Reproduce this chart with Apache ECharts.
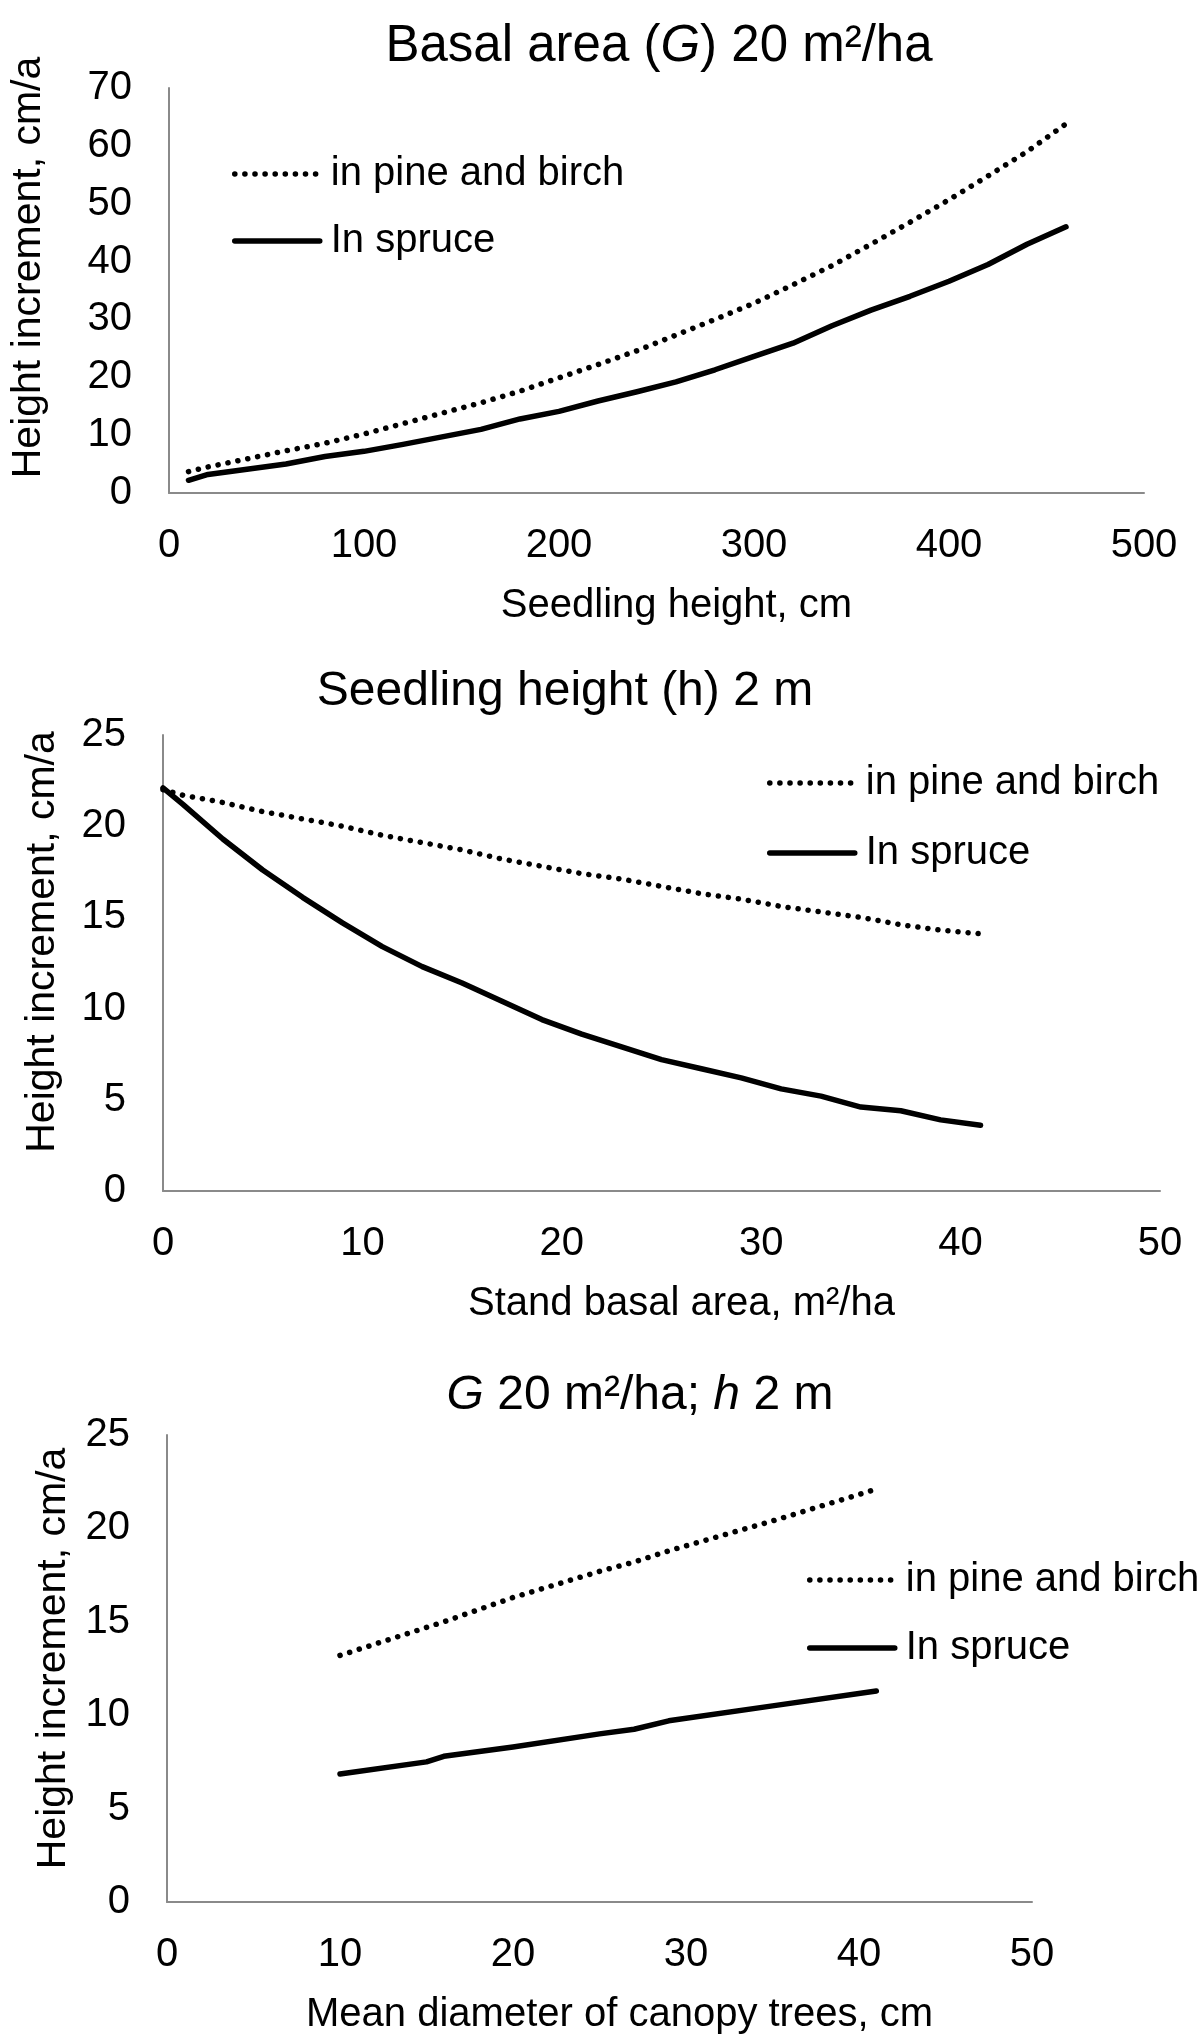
<!DOCTYPE html>
<html>
<head>
<meta charset="utf-8">
<script src="https://cdn.jsdelivr.net/npm/echarts@6/dist/echarts.min.js"></script>
<style>
html,body{margin:0;padding:0;background:#fff;}
#c{width:1200px;height:2037px;}
</style>
</head>
<body>
<div id="c"></div>
<script>
const FONT = '"Liberation Sans", Arial, Helvetica, sans-serif';
const seriesNames = ['in pine and birch', 'In spruce'];

// Panel 1: Basal area (G) 20 m2/ha
const p1X = [10, 20, 40, 60, 80, 100, 120, 140, 160, 180, 200, 220, 240, 260, 280, 300, 320, 340, 360, 380, 400, 420, 440, 460];
const p1Pine = [3.7, 4.5, 5.9, 7.3, 8.6, 10.2, 12.0, 13.8, 15.6, 17.6, 19.9, 22.2, 24.6, 27.3, 30.0, 32.8, 36.0, 39.3, 43.0, 46.8, 50.7, 54.8, 59.0, 63.8];
const p1Spruce = [2.2, 3.2, 4.1, 5.0, 6.3, 7.2, 8.4, 9.7, 11.0, 12.8, 14.1, 15.9, 17.5, 19.2, 21.3, 23.6, 25.9, 28.9, 31.6, 34.0, 36.6, 39.5, 43.0, 46.0];
const p1XTicks = [0, 100, 200, 300, 400, 500];
const p1YTicks = [0, 10, 20, 30, 40, 50, 60, 70];

// Panel 2: Seedling height (h) 2 m
const p2X = [0, 1, 3, 5, 7, 9, 11, 13, 15, 17, 19, 21, 23, 25, 27, 29, 31, 33, 35, 37, 39, 41];
const p2Pine = [22.0, 21.7, 21.3, 20.8, 20.4, 20.0, 19.5, 19.1, 18.7, 18.2, 17.8, 17.4, 17.1, 16.7, 16.3, 16.0, 15.6, 15.3, 15.0, 14.6, 14.3, 14.1];
const p2Spruce = [22.1, 21.2, 19.3, 17.6, 16.1, 14.7, 13.4, 12.3, 11.4, 10.4, 9.4, 8.6, 7.9, 7.2, 6.7, 6.2, 5.6, 5.2, 4.6, 4.4, 3.9, 3.6];
const p2XTicks = [0, 10, 20, 30, 40, 50];
const p2YTicks = [0, 5, 10, 15, 20, 25];

// Panel 3: G 20 m2/ha; h 2 m
const p3X = [10, 15, 16, 20, 25, 27, 29, 35, 41];
const p3Pine = [13.2, 14.7, 15.0, 16.3, 17.7, 18.2, 18.8, 20.4, 22.1];
const p3Spruce = [6.85, 7.5, 7.8, 8.3, 9.0, 9.25, 9.7, 10.5, 11.3];
const p3XTicks = [0, 10, 20, 30, 40, 50];
const p3YTicks = [0, 5, 10, 15, 20, 25];

const xNames = ['Seedling height, cm', 'Stand basal area, m²/ha', 'Mean diameter of canopy trees, cm'];
const yName = 'Height increment, cm/a';

const pineStyle = {color: '#000', width: 5.5, type: [0.1, 10], cap: 'round'};
const spruceStyle = {color: '#000', width: 5.5, type: 'solid', cap: 'round', join: 'round'};

const grids = [
  {left: 166, top: 88, width: 978, height: 405},
  {left: 163, top: 735, width: 997, height: 456},
  {left: 167, top: 1435, width: 865, height: 467}
];

function pairs(xs, ys) { return xs.map((x, i) => [x, ys[i]]); }

function tickAxis(ticks) {
  return {min: ticks[0], max: ticks[ticks.length - 1], interval: ticks[1] - ticks[0]};
}

const axisLine = {show: true, lineStyle: {color: '#8a8a8a', width: 2}};
const labelStyle = {color: '#000', fontSize: 40, fontFamily: FONT};

const xTickSets = [p1XTicks, p2XTicks, p3XTicks];
const yTickSets = [p1YTicks, p2YTicks, p3YTicks];
const yGaps = [120, 100, 91];
const yShift = [46, 42, 20];

const xAxes = xTickSets.map((t, i) => Object.assign({
  type: 'value', gridIndex: i,
  name: xNames[i], nameLocation: 'middle', nameGap: 93,
  nameTextStyle: {color: '#000', fontSize: 40, fontFamily: FONT, padding: [0, 0, 0, 40]},
  axisLine: axisLine, axisTick: {show: false}, splitLine: {show: false},
  axisLabel: Object.assign({margin: 33}, labelStyle)
}, tickAxis(t)));

const yAxes = yTickSets.map((t, i) => Object.assign({
  type: 'value', gridIndex: i,
  name: yName, nameLocation: 'middle', nameGap: yGaps[i],
  nameTextStyle: {color: '#000', fontSize: 41, fontFamily: FONT, padding: [0, 0, 0, yShift[i]]},
  axisLine: axisLine, axisTick: {show: false}, splitLine: {show: false},
  axisLabel: Object.assign({margin: 37}, labelStyle)
}, tickAxis(t)));

const panelData = [[p1X, p1Pine, p1Spruce], [p2X, p2Pine, p2Spruce], [p3X, p3Pine, p3Spruce]];
const series = [];
panelData.forEach((d, i) => {
  series.push({name: seriesNames[0], type: 'line', xAxisIndex: i, yAxisIndex: i, symbol: 'none', smooth: false,
    lineStyle: pineStyle, itemStyle: {color: '#000'}, data: pairs(d[0], d[1]), animation: false});
  series.push({name: seriesNames[1], type: 'line', xAxisIndex: i, yAxisIndex: i, symbol: 'none', smooth: false,
    lineStyle: spruceStyle, itemStyle: {color: '#000'}, data: pairs(d[0], d[2]), animation: false});
});

const legendPos = [
  {left: 232, top: 150, itemGap: 19},
  {left: 767, top: 759, itemGap: 22},
  {left: 807, top: 1556, itemGap: 20}
];
const legends = legendPos.map(p => ({
  orient: 'vertical', left: p.left, top: p.top, itemGap: p.itemGap, padding: 0,
  itemWidth: 85, itemHeight: 20, selectedMode: false,
  itemStyle: {color: 'rgba(0,0,0,0)', borderWidth: 0},
  textStyle: {color: '#000', fontSize: 40, fontFamily: FONT, lineHeight: 48, padding: [0, 0, 0, 6]},
  data: [
    {name: seriesNames[0], lineStyle: pineStyle, itemStyle: {color: 'rgba(0,0,0,0)', borderWidth: 0}},
    {name: seriesNames[1], lineStyle: spruceStyle, itemStyle: {color: 'rgba(0,0,0,0)', borderWidth: 0}}
  ]
}));

function richFor(size) {
  return {
    a: {fontSize: size, fontFamily: FONT, fill: '#000'},
    b: {fontSize: size, fontFamily: FONT, fontStyle: 'italic', fill: '#000'}
  };
}
const titles = [
  {x: 659, y: 47, size: 51, text: '{a|Basal area (}{b|G}{a|) 20 m²/ha}'},
  {x: 565, y: 692, size: 48, text: '{a|Seedling height (h) 2 m}'},
  {x: 640, y: 1396, size: 48, text: '{b|G}{a| 20 m²/ha; }{b|h}{a| 2 m}'}
];

const chart = echarts.init(document.getElementById('c'), null, {renderer: 'canvas'});
chart.setOption({
  backgroundColor: '#fff',
  animation: false,
  grid: grids,
  xAxis: xAxes,
  yAxis: yAxes,
  legend: legends,
  series: series,
  graphic: titles.map(t => ({
    type: 'text', x: t.x, y: t.y,
    style: {text: t.text, align: 'center', verticalAlign: 'middle', rich: richFor(t.size), fontSize: t.size, fontFamily: FONT, fill: '#000'}
  }))
});
</script>
</body>
</html>
